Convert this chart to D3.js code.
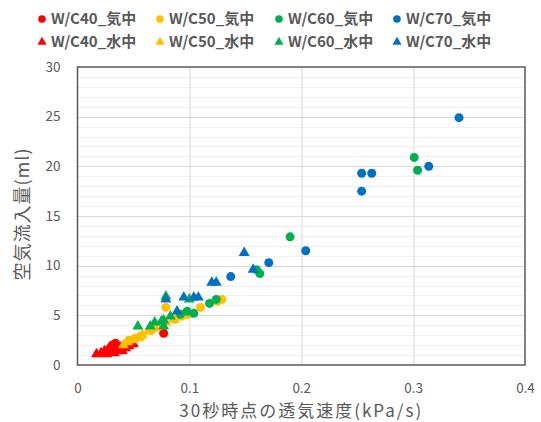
<!DOCTYPE html>
<html>
<head>
<meta charset="utf-8">
<script src="https://cdn.jsdelivr.net/npm/d3@7"></script>
<style>
  body { margin: 0; background: #fff; }
  svg text { font-family: "Noto Sans CJK JP", "Noto Sans", sans-serif; fill: #595959; }
</style>
</head>
<body>
<div id="chart"></div>
<script>
// series data
var w40AirX = [0.027, 0.029, 0.031, 0.032, 0.034, 0.035, 0.037, 0.039, 0.041, 0.044, 0.047, 0.077];
var w40AirY = [1.4, 1.7, 2.0, 1.5, 2.2, 1.8, 1.6, 1.9, 1.7, 2.0, 2.2, 3.2];
var w40WaterX = [0.017, 0.021, 0.024, 0.026, 0.029, 0.033, 0.036, 0.040, 0.043, 0.046, 0.050];
var w40WaterY = [1.1, 1.2, 1.4, 1.1, 1.3, 1.2, 1.5, 1.4, 1.7, 1.9, 2.1];
var w50AirX = [0.046, 0.052, 0.057, 0.066, 0.073, 0.079, 0.087, 0.093, 0.099, 0.110, 0.125, 0.129];
var w50AirY = [2.5, 2.7, 2.9, 3.5, 3.9, 5.8, 4.6, 4.9, 5.1, 5.8, 6.4, 6.6];
var w50WaterX = [0.041, 0.045, 0.049, 0.054, 0.058, 0.063, 0.068, 0.073, 0.079, 0.086, 0.094];
var w50WaterY = [2.0, 2.3, 2.5, 2.7, 3.0, 3.4, 3.7, 4.0, 4.3, 4.6, 5.0];
var w60AirX = [0.092, 0.098, 0.104, 0.118, 0.124, 0.160, 0.163, 0.190, 0.301, 0.304];
var w60AirY = [5.1, 5.4, 5.2, 6.2, 6.6, 9.6, 9.2, 12.9, 20.9, 19.6];
var w60WaterX = [0.054, 0.065, 0.069, 0.077, 0.077, 0.079, 0.083, 0.100, 0.075];
var w60WaterY = [3.9, 3.9, 4.3, 4.5, 3.9, 6.9, 4.9, 6.6, 4.4];
var w70AirX = [0.137, 0.171, 0.204, 0.254, 0.254, 0.263, 0.314, 0.341];
var w70AirY = [8.9, 10.3, 11.5, 19.3, 17.5, 19.3, 20.0, 24.9];
var w70WaterX = [0.079, 0.089, 0.095, 0.104, 0.108, 0.120, 0.124, 0.149, 0.157];
var w70WaterY = [6.6, 5.4, 6.8, 6.8, 6.8, 8.3, 8.3, 11.3, 9.6];

var seriesNames = ["W/C40_気中", "W/C50_気中", "W/C60_気中", "W/C70_気中",
                   "W/C40_水中", "W/C50_水中", "W/C60_水中", "W/C70_水中"];
var xTicks = [0, 0.1, 0.2, 0.3, 0.4];
var yTicks = [0, 5, 10, 15, 20, 25, 30];
var xTitle = "30秒時点の透気速度(kPa/s)";
var yTitle = "空気流入量(ml)";

var colors = ["#ff0000", "#ffc000", "#00b050", "#0070c0"];

// build series table (air = circle, water = triangle)
var series = [
  { name: seriesNames[0], color: colors[0], shape: "circle", xs: w40AirX, ys: w40AirY },
  { name: seriesNames[4], color: colors[0], shape: "triangle", xs: w40WaterX, ys: w40WaterY },
  { name: seriesNames[1], color: colors[1], shape: "circle", xs: w50AirX, ys: w50AirY },
  { name: seriesNames[5], color: colors[1], shape: "triangle", xs: w50WaterX, ys: w50WaterY },
  { name: seriesNames[2], color: colors[2], shape: "circle", xs: w60AirX, ys: w60AirY },
  { name: seriesNames[6], color: colors[2], shape: "triangle", xs: w60WaterX, ys: w60WaterY },
  { name: seriesNames[3], color: colors[3], shape: "circle", xs: w70AirX, ys: w70AirY },
  { name: seriesNames[7], color: colors[3], shape: "triangle", xs: w70WaterX, ys: w70WaterY }
];

var svgWidth = 541;
var svgHeight = 422;

var margin = { top: 67, right: 16, bottom: 57, left: 77.5 };
var width = svgWidth - margin.left - margin.right;
var height = svgHeight - margin.top - margin.bottom;

var svg = d3.select("#chart")
  .append("svg")
  .attr("width", svgWidth)
  .attr("height", svgHeight);

var chartGroup = svg.append("g")
  .attr("transform", `translate(${margin.left}, ${margin.top})`);

var xScale = d3.scaleLinear().domain([0, 0.4]).range([0, width]);
var yScale = d3.scaleLinear().domain([0, 30]).range([height, 0]);

// minor horizontal grid (every 1)
chartGroup.append("g")
  .selectAll("line")
  .data(d3.range(1, 30).filter(d => d % 5 !== 0))
  .enter()
  .append("line")
  .attr("x1", 0)
  .attr("x2", width)
  .attr("y1", d => Math.round(yScale(d)) + 0.5)
  .attr("y2", d => Math.round(yScale(d)) + 0.5)
  .attr("stroke", "#f0f0f0")
  .attr("stroke-width", 1);

// major horizontal grid
chartGroup.append("g")
  .selectAll("line")
  .data(yTicks.slice(1, -1))
  .enter()
  .append("line")
  .attr("x1", 0)
  .attr("x2", width)
  .attr("y1", d => Math.round(yScale(d)) + 0.5)
  .attr("y2", d => Math.round(yScale(d)) + 0.5)
  .attr("stroke", "#d9d9d9")
  .attr("stroke-width", 1);

// major vertical grid
chartGroup.append("g")
  .selectAll("line")
  .data(xTicks.slice(1, -1))
  .enter()
  .append("line")
  .attr("y1", 0)
  .attr("y2", height)
  .attr("x1", d => Math.round(xScale(d)) + 0.5)
  .attr("x2", d => Math.round(xScale(d)) + 0.5)
  .attr("stroke", "#d9d9d9")
  .attr("stroke-width", 1);

// axes (labels only, frame drawn separately)
var xAxis = d3.axisBottom(xScale).tickValues(xTicks).tickSize(0).tickPadding(0)
  .tickFormat(d => d === 0 ? "0" : d3.format(".1f")(d));
var yAxis = d3.axisLeft(yScale).tickValues(yTicks).tickSize(0).tickPadding(0);

var gx = chartGroup.append("g")
  .attr("transform", `translate(0, ${height + 24})`)
  .call(xAxis);
gx.select(".domain").remove();
gx.selectAll("text").attr("font-size", "13.5px").attr("fill", "#595959").attr("dy", "0.32em");

var gy = chartGroup.append("g")
  .attr("transform", "translate(-17, 0)")
  .call(yAxis);
gy.select(".domain").remove();
gy.selectAll("text").attr("font-size", "13.5px").attr("fill", "#595959");

// markers
var triangle = d3.symbol().type(d3.symbolTriangle).size(52);

series.forEach(function(s) {
  var pts = s.xs.map((x, i) => ({ x: x, y: s.ys[i] }));
  if (s.shape === "circle") {
    chartGroup.append("g")
      .selectAll("circle")
      .data(pts)
      .enter()
      .append("circle")
      .attr("cx", d => xScale(d.x))
      .attr("cy", d => yScale(d.y))
      .attr("r", 4.5)
      .attr("fill", s.color);
  } else {
    chartGroup.append("g")
      .selectAll("path")
      .data(pts)
      .enter()
      .append("path")
      .attr("d", triangle)
      .attr("transform", d => `translate(${xScale(d.x)}, ${yScale(d.y)})`)
      .attr("fill", s.color);
  }
});

// plot frame
chartGroup.append("rect")
  .attr("x", 0)
  .attr("y", 0)
  .attr("width", width)
  .attr("height", height)
  .attr("fill", "none")
  .attr("stroke", "#595959")
  .attr("stroke-width", 1.5);

// axis titles
svg.append("text")
  .attr("x", margin.left + width / 2)
  .attr("y", 417)
  .attr("text-anchor", "middle")
  .attr("font-size", "17px")
  .attr("letter-spacing", "2px")
  .text(xTitle);

svg.append("text")
  .attr("transform", `translate(29, ${margin.top + height / 2 - 2}) rotate(-90)`)
  .attr("text-anchor", "middle")
  .attr("font-size", "18px")
  .attr("letter-spacing", "1px")
  .text(yTitle);

// legend: 2 rows x 4 columns
var legendX = [42, 160, 279, 397];
var legendY = [19, 42];
var legendTri = d3.symbol().type(d3.symbolTriangle).size(36);

series.forEach(function(s, i) {
  var col = Math.floor(i / 2);
  var row = i % 2;
  var g = svg.append("g")
    .attr("transform", `translate(${legendX[col]}, ${legendY[row]})`);
  if (s.shape === "circle") {
    g.append("circle").attr("r", 3.8).attr("fill", s.color);
  } else {
    g.append("path").attr("d", legendTri).attr("fill", s.color);
  }
  g.append("text")
    .attr("x", 9)
    .attr("dy", "0.35em")
    .attr("font-size", "15px")
    .attr("font-weight", "bold")
    .text(s.name);
});
</script>
</body>
</html>
